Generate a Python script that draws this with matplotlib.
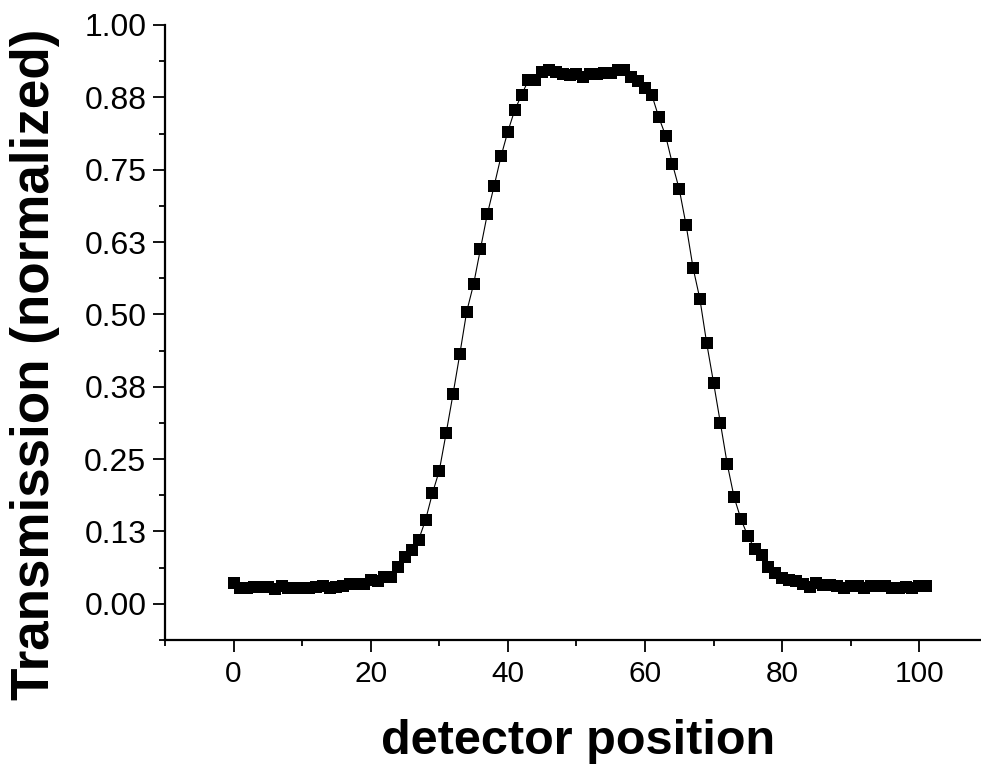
import matplotlib
matplotlib.use("Agg")
import matplotlib.pyplot as plt
from matplotlib.ticker import MultipleLocator, FixedLocator

plt.rcParams['font.family'] = ['Liberation Sans', 'DejaVu Sans']

positions = list(range(0, 102))
transmission = [
    0.036, 0.028, 0.028, 0.029, 0.029, 0.029, 0.026, 0.030, 0.028, 0.028,
    0.028, 0.028, 0.029, 0.030, 0.027, 0.029, 0.031, 0.034, 0.035, 0.034,
    0.041, 0.040, 0.047, 0.047, 0.063, 0.081, 0.093, 0.111, 0.145, 0.191,
    0.230, 0.295, 0.362, 0.432, 0.505, 0.552, 0.613, 0.673, 0.722, 0.773,
    0.816, 0.853, 0.879, 0.905, 0.905, 0.919, 0.923, 0.918, 0.916, 0.913,
    0.916, 0.911, 0.915, 0.915, 0.917, 0.917, 0.922, 0.922, 0.910, 0.903,
    0.891, 0.879, 0.841, 0.809, 0.760, 0.716, 0.654, 0.581, 0.527, 0.450,
    0.382, 0.312, 0.241, 0.184, 0.146, 0.117, 0.095, 0.084, 0.063, 0.054,
    0.044, 0.041, 0.040, 0.034, 0.029, 0.036, 0.033, 0.033, 0.030, 0.027,
    0.030, 0.030, 0.028, 0.030, 0.031, 0.030, 0.028, 0.027, 0.029, 0.028,
    0.031, 0.030,
]

x_ticks = [0, 20, 40, 60, 80, 100]
y_ticks = [0.0, 0.125, 0.25, 0.375, 0.5, 0.625, 0.75, 0.875, 1.0]
y_tick_labels = ['0.00', '0.13', '0.25', '0.38', '0.50', '0.63', '0.75', '0.88', '1.00']

fig = plt.figure(figsize=(9.81, 7.69), dpi=100)
W, H = 981, 769
ax = fig.add_axes([165 / W, (H - 640) / H, (981 - 165) / W, (640 - 25) / H])

ax.plot(positions, transmission, color='black', linewidth=0.8,
        marker='s', markersize=8.6, markerfacecolor='black',
        markeredgecolor='black', markeredgewidth=0)

ax.set_xlim(-10, 109)
ax.set_ylim(-0.0625, 1.0)

ax.xaxis.set_major_locator(FixedLocator(x_ticks))
ax.xaxis.set_minor_locator(MultipleLocator(10))
ax.yaxis.set_major_locator(FixedLocator(y_ticks))
ax.set_yticklabels(y_tick_labels)
ax.yaxis.set_minor_locator(MultipleLocator(0.0625))

for s in ['top', 'right']:
    ax.spines[s].set_visible(False)
for s in ['left', 'bottom']:
    ax.spines[s].set_linewidth(1.6)
    ax.spines[s].set_clip_on(False)

ax.tick_params(axis='both', which='major', direction='out', length=8.5,
               width=1.3, pad=5)
ax.tick_params(axis='x', which='major', labelsize=21.5, pad=6)
ax.tick_params(axis='y', which='major', labelsize=23, pad=5)
ax.tick_params(axis='both', which='minor', direction='out', length=4.5,
               width=1.3)
for t in ax.get_xticklines(minor=True) + ax.get_yticklines(minor=True):
    t.set_clip_on(False)

fig.text(578 / W, 1 - 742 / H, 'detector position', fontsize=35,
         fontweight='bold', ha='center', va='center')
fig.text(35 / W, 1 - 364 / H, 'Transmission (normalized)', fontsize=38.2,
         fontweight='bold', ha='center', va='center', rotation=90)

fig.savefig('out.png', dpi=100)
